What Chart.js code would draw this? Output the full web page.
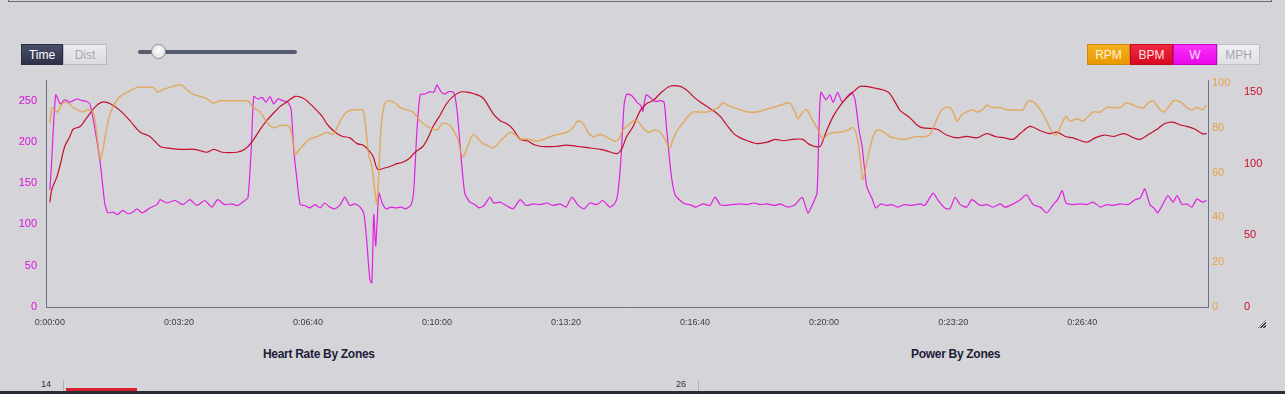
<!DOCTYPE html>
<html>
<head>
<meta charset="utf-8">
<script src="https://cdn.jsdelivr.net/npm/chart.js@4/dist/chart.umd.min.js"></script>
<style>
  html, body { margin:0; padding:0; }
  body { width:1285px; height:394px; background:#d5d5d9; position:relative; overflow:hidden; font-family:"Liberation Sans", Arial, sans-serif; }
  #topbox { position:absolute; left:8px; top:-20px; width:1262px; height:21px; border:1px solid #6a6c78; border-top:none; }
  .seg { position:absolute; top:44px; height:21px; box-sizing:border-box; font-size:12px; line-height:20px; text-align:center; }
  #time { left:21px; width:42px; background:linear-gradient(#4a5068,#2c3149); color:#fff; border:1px solid #2a2e40; }
  #dist { left:63px; width:44px; background:linear-gradient(#ececef,#dcdce0); color:#a6a8b2; border:1px solid #b8b9c2; }
  #track { position:absolute; left:138px; top:50px; width:159px; height:4px; background:#575c6e; border-radius:2px; }
  #knob { position:absolute; left:151px; top:44px; width:15px; height:15px; border-radius:50%; background:radial-gradient(circle at 50% 40%, #ffffff, #d8d8dc); border:1px solid #8a8c98; box-sizing:border-box; }
  #rpmb { left:1087px; width:43px; background:linear-gradient(#f4b020,#e89800); color:#fff4d8; border:1px solid #d08a00; }
  #bpmb { left:1130px; width:43px; background:linear-gradient(#f02a40,#d80a22); color:#ffe0e4; border:1px solid #c0081e; }
  #wb   { left:1173px; width:44px; background:linear-gradient(#fa30fa,#e808e8); color:#ffe4ff; border:1px solid #c800c8; }
  #mphb { left:1217px; width:43px; background:linear-gradient(#f0f0f3,#e0e0e4); color:#a4a6b2; border:1px solid #c0c1c8; }
  #chartwrap { position:absolute; left:0; top:0; width:1285px; height:340px; }
  .ttl { position:absolute; top:347px; font-size:12px; font-weight:bold; color:#1c2036; letter-spacing:-0.3px; }
  #bottomband { position:absolute; left:0; top:391px; width:1285px; height:3px; background:#2a2c34; }
  .small { position:absolute; font-size:9px; color:#333; }
  .vl { position:absolute; width:1px; background:#b0b0b8; }
  #redbar { position:absolute; left:66px; top:388px; width:71px; height:4px; background:#d8202e; }
  #grip { position:absolute; left:1258px; top:320px; width:8px; height:8px;
          background:repeating-linear-gradient(135deg, transparent 0 1px, #444 1px 2px); clip-path:polygon(100% 0,100% 100%,0 100%); }
</style>
</head>
<body>
<div id="topbox"></div>
<div id="time" class="seg">Time</div>
<div id="dist" class="seg">Dist</div>
<div id="track"></div>
<div id="knob"></div>
<div id="rpmb" class="seg">RPM</div>
<div id="bpmb" class="seg">BPM</div>
<div id="wb" class="seg">W</div>
<div id="mphb" class="seg">MPH</div>
<div id="chartwrap"><canvas id="c" width="1285" height="340"></canvas></div>
<div id="grip"></div>
<div class="ttl" style="left:263px">Heart Rate By Zones</div>
<div class="ttl" style="left:911px">Power By Zones</div>
<div class="small" style="left:41px;top:379px">14</div>
<div class="vl" style="left:63px;top:380px;height:12px"></div>
<div id="redbar"></div>
<div class="small" style="left:676px;top:379px">26</div>
<div class="vl" style="left:698px;top:380px;height:12px"></div>
<div id="bottomband"></div>
<script>
// ---- Data (time in seconds) ----
const wTime = [0,2,9,16,23,31,36,43,50,57,62,70,78,85,90,98,105,113,121,129,135,143,155,166,171,181,194,206,217,228,240,251,260,271,282,291,302,307,312,316,322,329,335,341,347,353,361,369,374,378,383,388,395,403,411,419,426,434,442,450,457,465,473,481,487,491,496,499,502,505,510,515,521,529,536,544,552,560,564,569,574,581,589,595,600,606,612,618,626,631,636,643,651,659,665,673,682,688,698,707,718,729,738,749,760,770,780,791,800,809,818,828,837,848,857,868,876,880,885,890,894,902,910,916,919,924,930,938,946,952,956,963,969,977,984,992,1001,1012,1023,1031,1039,1046,1057,1070,1080,1091,1101,1111,1124,1132,1144,1155,1166,1175,1183,1189,1192,1195,1203,1209,1214,1221,1228,1235,1243,1248,1254,1259,1266,1274,1280,1288,1296,1305,1314,1325,1336,1349,1356,1369,1376,1387,1395,1403,1411,1421,1429,1442,1452,1462,1473,1480,1491,1504,1514,1524,1535,1545,1555,1562,1569,1575,1586,1597,1607,1617,1628,1638,1648,1659,1671,1682,1690,1697,1705,1711,1717,1726,1733,1741,1747,1755,1762,1770,1778,1786,1793];
const wValues = [142,165,257,246,251,248,250,252,250,249,246,215,175,126,114,115,112,117,113,115,119,114,120,124,130,126,129,124,130,123,129,121,130,124,125,123,129,132,190,255,252,254,248,255,246,252,250,248,239,190,154,124,123,120,124,120,126,121,119,124,133,123,125,121,112,81,33,29,112,74,138,126,119,121,120,121,119,124,142,215,257,258,261,260,269,261,258,261,260,239,194,138,127,124,120,123,133,126,127,123,119,130,123,125,124,126,123,125,121,133,124,119,126,124,129,121,126,136,178,245,258,256,248,244,237,257,254,249,250,248,215,160,136,129,125,124,121,125,123,133,124,123,124,125,124,126,124,125,123,125,121,124,133,114,126,138,215,260,251,257,248,260,248,254,260,251,215,194,146,132,120,125,123,124,121,124,123,125,123,138,130,120,119,133,124,121,130,123,124,121,125,121,124,130,136,124,121,114,124,130,141,126,124,125,124,127,121,124,123,125,124,130,132,143,124,120,114,126,135,127,135,124,125,121,131,127,129];

const bpmTime = [0,3,11,17,23,31,36,47,54,62,71,81,93,109,124,140,155,171,181,202,225,243,254,267,290,302,313,326,336,346,357,367,380,391,398,414,422,429,437,445,454,465,476,485,493,501,508,519,527,538,547,558,566,578,586,594,605,615,625,636,646,656,671,687,698,708,718,729,740,752,764,783,801,818,837,853,863,879,887,894,904,915,925,935,946,961,977,988,997,1008,1018,1028,1039,1049,1060,1070,1081,1096,1112,1124,1136,1152,1167,1175,1186,1194,1203,1214,1224,1235,1245,1256,1276,1299,1310,1318,1333,1344,1353,1375,1390,1406,1421,1437,1452,1465,1480,1493,1504,1519,1535,1550,1561,1574,1586,1607,1620,1634,1649,1665,1680,1690,1705,1716,1728,1741,1752,1762,1775,1786,1793];
const bpmValues = [73,82,91,101,112,119,124,126,130,135,140,143,142,137,130,122,119,112,111,110,110,108,110,108,108,110,115,124,130,135,140,143,147,146,144,137,133,128,124,121,119,118,114,113,110,105,96,97,98,100,101,104,108,112,118,126,134,142,147,150,150,149,146,135,130,128,124,117,116,113,112,112,113,112,111,110,109,107,111,119,126,137,142,144,149,154,154,151,147,143,140,137,133,127,121,118,116,114,115,117,116,117,117,114,112,112,122,133,140,146,150,154,153,150,143,137,132,127,125,124,120,118,119,118,121,119,118,117,121,126,123,121,122,119,118,115,118,120,119,121,118,117,121,124,128,129,127,126,124,121,121];

const rpmTime = [0,2,3,8,12,20,28,36,43,51,59,67,70,73,78,82,87,93,101,109,121,135,147,160,167,175,186,197,205,212,222,233,243,253,264,274,287,299,307,315,326,335,346,357,367,372,377,380,386,392,403,414,422,429,439,450,460,470,478,485,490,494,499,504,507,510,513,518,524,535,543,553,563,571,578,589,600,609,620,625,632,640,648,656,664,671,679,687,698,705,713,721,729,740,755,767,775,787,801,811,818,826,834,842,853,862,868,876,882,888,896,904,911,919,927,938,946,953,961,966,973,981,989,997,1008,1018,1028,1036,1043,1051,1060,1070,1083,1096,1109,1121,1132,1142,1147,1155,1159,1167,1173,1181,1189,1198,1206,1217,1225,1237,1245,1251,1256,1260,1265,1271,1277,1283,1293,1302,1318,1328,1341,1356,1364,1372,1380,1387,1395,1400,1406,1414,1421,1429,1437,1445,1452,1460,1473,1483,1496,1508,1514,1519,1527,1535,1543,1550,1556,1561,1567,1575,1581,1592,1601,1609,1617,1628,1638,1648,1659,1668,1680,1688,1695,1702,1710,1718,1726,1733,1741,1747,1755,1762,1770,1778,1786,1793];
const rpmValues = [82,87,89,88,87,91,91,89,88,87,88,87,83,76,66,70,78,86,91,94,96,98,98,98,96,97,98,99,99,97,95,94,93,91,92,92,92,92,92,89,87,83,80,81,81,80,74,68,70,72,75,76,77,78,77,83,87,88,88,88,79,68,63,51,46,61,79,90,92,91,89,88,87,84,82,80,79,82,81,79,75,67,72,77,75,73,72,71,74,76,78,77,75,75,74,75,76,77,78,80,83,82,78,76,77,76,75,74,75,79,81,83,83,80,78,79,78,75,71,75,79,82,85,87,87,87,88,89,91,90,89,88,87,87,88,89,90,91,91,87,84,87,88,84,80,75,77,78,78,79,80,76,66,57,63,71,77,79,78,76,75,75,76,76,77,82,87,89,89,87,83,86,87,88,87,88,90,89,89,88,88,88,91,92,91,88,84,80,77,77,81,85,83,84,83,85,87,87,89,89,89,91,90,89,89,91,92,89,87,89,92,92,91,89,88,89,88,90];

const xTickValues = [0,200,400,600,800,1000,1200,1400,1600];

function pts(t, v) { return t.map((x, i) => ({ x: x, y: v[i] })); }
function fmt(s) {
  const h = Math.floor(s / 3600), m = Math.floor((s % 3600) / 60), sec = s % 60;
  return h + ':' + String(m).padStart(2, '0') + ':' + String(sec).padStart(2, '0');
}

const axisColor = '#6e7184';
Chart.defaults.font.family = '"Liberation Sans", Arial, sans-serif';

new Chart(document.getElementById('c'), {
  type: 'line',
  data: {
    datasets: [
      { label: 'RPM', data: pts(rpmTime, rpmValues), yAxisID: 'yRpm', borderColor: 'rgba(226,160,70,0.8)', borderWidth: 1.5, pointRadius: 0, tension: 0.3 },
      { label: 'BPM', data: pts(bpmTime, bpmValues), yAxisID: 'yBpm', borderColor: '#c40f2c', borderWidth: 1.2, pointRadius: 0, tension: 0.3 },
      { label: 'W', data: pts(wTime, wValues), yAxisID: 'yW', borderColor: '#e020e0', borderWidth: 1.2, pointRadius: 0, tension: 0.2 }
    ]
  },
  options: {
    responsive: false,
    animation: false,
    events: [],
    layout: { padding: { top: 80, left: 0, right: 0, bottom: 0 } },
    plugins: { legend: { display: false }, tooltip: { enabled: false } },
    scales: {
      x: {
        type: 'linear', min: -6, max: 1795,
        afterBuildTicks: (s) => { s.ticks = xTickValues.map(v => ({ value: v })); },
        afterFit: (s) => { s.height = 33; },
        grid: { display: false, drawTicks: false },
        border: { display: true, color: axisColor, width: 1 },
        ticks: { padding: 10, maxRotation: 0, autoSkip: false, color: '#3a3c4a', font: { size: 9 }, callback: (v) => fmt(v) }
      },
      yW: {
        position: 'left', min: 0, max: 275,
        afterBuildTicks: (s) => { s.ticks = [0,50,100,150,200,250].map(v => ({ value: v })); },
        afterFit: (s) => { s.width = 46; },
        grid: { display: false, drawTicks: false },
        border: { display: true, color: axisColor, width: 1 },
        ticks: { padding: 9, color: '#d810d8', font: { size: 11 } }
      },
      yRpm: {
        position: 'right', min: 0, max: 101.3,
        afterBuildTicks: (s) => { s.ticks = [0,20,40,60,80,100].map(v => ({ value: v })); },
        afterFit: (s) => { s.width = 32; },
        grid: { display: false, drawTicks: false },
        border: { display: true, color: axisColor, width: 1 },
        ticks: { padding: 4, color: '#e6a24a', font: { size: 11 } }
      },
      yBpm: {
        position: 'right', min: 0, max: 158.4,
        afterBuildTicks: (s) => { s.ticks = [0,50,100,150].map(v => ({ value: v })); },
        afterFit: (s) => { s.width = 45; },
        grid: { display: false, drawTicks: false },
        border: { display: false },
        ticks: { padding: 4, color: '#cc0a28', font: { size: 11 } }
      }
    }
  }
});
</script>
</body>
</html>
